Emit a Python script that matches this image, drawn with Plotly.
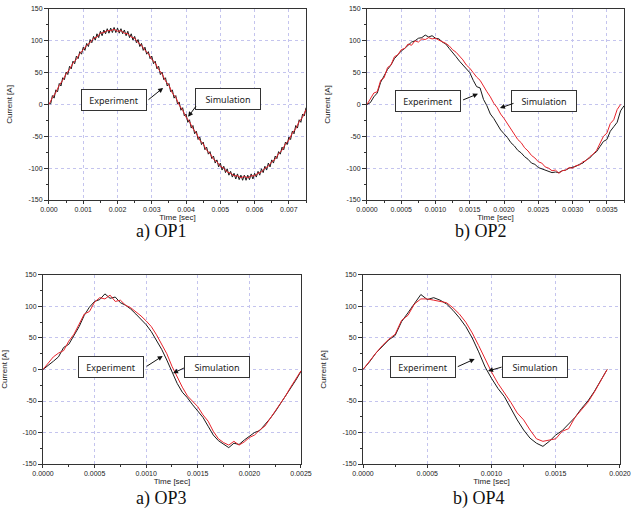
import plotly.graph_objects as go

# ---- data (current in A) ----
# OP1 experiment: 0 .. 0.0075 s, every 0.05 ms (PWM ripple visible)
op1_exp_step = 0.00005
op1_exp = [2, 1, 14, 10, 23, 20, 33, 29, 42, 39,
           51, 47, 60, 56, 68, 64, 76, 72, 83, 79,
           90, 85, 96, 91, 102, 97, 107, 101, 111, 105,
           115, 108, 117, 111, 119, 112, 120, 113, 121, 113,
           120, 112, 119, 111, 117, 108, 115, 105, 111, 101,
           107, 97, 102, 91, 96, 85, 90, 79, 83, 72,
           76, 64, 68, 56, 60, 47, 51, 39, 42, 29,
           33, 20, 23, 10, 14, 1, 4, -9, -5, -18,
           -15, -28, -24, -37, -33, -46, -42, -55, -51, -63,
           -59, -71, -67, -78, -74, -85, -81, -92, -87, -98,
           -92, -103, -97, -107, -101, -111, -105, -114, -108, -117,
           -109, -118, -111, -119, -111, -119, -111, -118, -109, -117,
           -108, -114, -105, -111, -101, -107, -97, -103, -92, -98,
           -87, -92, -81, -85, -74, -78, -67, -71, -59, -63,
           -51, -55, -42, -46, -33, -37, -24, -28, -15, -18,
           -5]
# OP1 simulation: every 0.1 ms
op1_sim_step = 0.0001
op1_sim = [0, 11, 19, 30, 38, 48, 55, 65, 71, 80,
           86, 93, 97, 104, 106, 112, 113, 116, 116, 118,
           115, 116, 112, 111, 106, 104, 97, 93, 85, 80,
           71, 65, 55, 48, 37, 30, 18, 11, -1, -9,
           -20, -27, -38, -45, -56, -62, -72, -77, -86, -90,
           -97, -100, -106, -108, -112, -112, -115, -113, -115, -112,
           -112, -108, -106, -100, -97, -90, -86, -77, -72, -62,
           -56, -45, -38, -27, -20, -8]

# OP2: every 0.05 ms
op2_step = 0.00005
op2_exp = [0, 3, 12, 18, 35, 45, 55, 62, 72, 78,
           84, 88, 93, 98, 100, 104, 105, 109, 106, 108,
           104, 103, 98, 95, 88, 82, 75, 68, 62, 55,
           50, 38, 28, 26, 8, -2, -15, -22, -32, -40,
           -46, -52, -60, -65, -72, -76, -82, -86, -92, -94,
           -99, -101, -104, -105, -107, -106, -107, -104, -103, -100,
           -99, -97, -94, -92, -87, -84, -78, -74, -66, -58,
           -55, -42, -35, -28, -10, -2]
op2_sim = [0, 8, 18, 20, 38, 42, 58, 62, 75, 78,
           86, 88, 95, 93, 100, 98, 103, 102, 105, 103,
           104, 101, 99, 96, 92, 86, 82, 76, 70, 62,
           57, 50, 43, 38, 28, 20, 12, 2, -5, -15,
           -22, -30, -38, -45, -55, -60, -68, -73, -80, -84,
           -90, -92, -98, -100, -104, -103, -108, -104, -103, -99,
           -100, -96, -95, -90, -88, -82, -78, -72, -62, -50,
           -45, -30, -24, -8, 0]

# OP3: every 0.05 ms
op3_step = 0.00005
op3_exp = [0, 6, 13, 20, 35, 40, 55, 68, 86, 99,
           108, 111, 120, 113, 115, 106, 102, 96, 88, 80,
           71, 60, 46, 32, 15, -4, -22, -36, -45, -56,
           -66, -76, -90, -104, -113, -118, -124, -117, -119, -112,
           -106, -100, -97, -88, -78, -67, -55, -42, -30, -17,
           -3]
op3_sim = [0, 10, 20, 26, 30, 45, 56, 72, 88, 92,
           107, 114, 112, 118, 108, 110, 102, 98, 92, 85,
           77, 68, 55, 40, 25, 5, -12, -28, -42, -50,
           -59, -72, -82, -98, -110, -116, -120, -114, -120, -115,
           -108, -104, -96, -90, -78, -68, -55, -42, -28, -16,
           -2]

# OP4: every 0.05 ms
op4_step = 0.00005
op4_exp = [0, 12, 26, 36, 47, 54, 76, 90, 105, 119,
           111, 114, 110, 104, 94, 82, 68, 50, 28, 4,
           -14, -30, -43, -62, -80, -96, -109, -117, -122, -114,
           -104, -97, -86, -76, -62, -50, -35, -18, 0]
op4_sim = [0, 14, 26, 38, 48, 56, 78, 86, 104, 112,
           112, 110, 108, 106, 98, 88, 75, 58, 38, 16,
           -4, -22, -36, -52, -69, -80, -96, -110, -114, -112,
           -110, -98, -94, -76, -64, -52, -36, -18, 0]

y_ticks = [-150, -100, -50, 0, 50, 100, 150]
y_labels = [str(v) for v in y_ticks]

captions = ["a) OP1", "b) OP2", "a) OP3", "b) OP4"]


def times(vals, step):
    return [i * step for i in range(len(vals))]


panels = [
    # exp, exp step, sim, sim step, x max, major dtick, tick format, x domain, y domain
    (op1_exp, op1_exp_step, op1_sim, op1_sim_step, 0.0075, 0.001, ".3f", [0.0769, 0.4804], [0.6212, 0.983]),
    (op2_exp, op2_step, op2_sim, op2_step, 0.00375, 0.0005, ".4f", [0.5761, 0.9796], [0.6212, 0.983]),
    (op3_exp, op3_step, op3_sim, op3_step, 0.0025, 0.0005, ".4f", [0.0675, 0.4725], [0.1212, 0.4792]),
    (op4_exp, op4_step, op4_sim, op4_step, 0.0020, 0.0005, ".4f", [0.5699, 0.9733], [0.1212, 0.4792]),
]

# annotation boxes / arrows in data coords: (text, box x, box y, tail x, tail y, tip x, tip y)
labels = [
    [("Experiment", 0.0019, 6.5, 0.00286, 5.7, 0.00333, 26),
     ("Simulation", 0.00521, 8.9, 0.00432, -0.5, 0.00406, -19.4)],
    [("Experiment", 0.00089, 5, 0.00138, 6.2, 0.00162, 16.8),
     ("Simulation", 0.00259, 6, 0.00216, 2.6, 0.00194, -5.7)],
    [("Experiment", 0.00066, 3.2, 0.00099, 3.5, 0.00116, 21.4),
     ("Simulation", 0.00169, 4.4, 0.00138, 3.5, 0.00126, -6)],
    [("Experiment", 0.000468, 3.5, 0.000726, 3.5, 0.000869, 16.7),
     ("Simulation", 0.00134, 4.4, 0.00109, 4.4, 0.000973, -2.4)],
]

caption_pos = [(0.253, 0.562), (0.755, 0.562), (0.253, 0.056), (0.752, 0.056)]

fig = go.Figure()
layout = dict(
    width=637, height=528,
    margin=dict(l=0, r=0, t=0, b=0),
    paper_bgcolor="white", plot_bgcolor="white",
    showlegend=False,
    font=dict(family="Liberation Sans, Arial", color="#222"),
)
annotations = []

for i, (exp, exp_step, sim, sim_step, xmax, dtick, fmt, xdom, ydom) in enumerate(panels):
    n = "" if i == 0 else str(i + 1)
    xref, yref = "x" + n, "y" + n
    fig.add_trace(go.Scatter(x=times(exp, exp_step), y=exp, mode="lines", name="Experiment",
                             line=dict(color="#1a1a1a", width=1), xaxis=xref, yaxis=yref))
    fig.add_trace(go.Scatter(x=times(sim, sim_step), y=sim, mode="lines", name="Simulation",
                             line=dict(color="#e8242c", width=1), xaxis=xref, yaxis=yref))

    layout["xaxis" + n] = dict(
        domain=xdom, anchor=yref, range=[0, xmax], tick0=0, dtick=dtick, tickformat=fmt,
        showline=True, mirror=True, linecolor="#333", linewidth=1,
        ticks="outside", ticklen=3, tickcolor="#333", tickfont=dict(size=7),
        minor=dict(ticks="outside", ticklen=2, tickcolor="#333", dtick=dtick / 2, showgrid=False),
        showgrid=True, gridcolor="#c4c4ee", griddash="dot", gridwidth=1,
        zeroline=False, automargin=False,
        title=dict(text="Time [sec]", font=dict(size=8), standoff=0),
    )
    layout["yaxis" + n] = dict(
        domain=ydom, anchor=xref, range=[-150, 150], tickvals=y_ticks, ticktext=y_labels,
        showline=True, mirror=True, linecolor="#333", linewidth=1,
        ticks="outside", ticklen=4, tickcolor="#333", tickfont=dict(size=7),
        minor=dict(ticks="outside", ticklen=2, tickcolor="#333", dtick=25, showgrid=False),
        showgrid=True, gridcolor="#c4c4ee", griddash="dot", gridwidth=1,
        zeroline=False, automargin=False,
        title=dict(text="Current [A]", font=dict(size=8), standoff=14),
    )

    for text, bx, by, tx, ty, px, py in labels[i]:
        annotations.append(dict(
            x=bx, y=by, xref=xref, yref=yref, text=text, showarrow=False,
            font=dict(family="Noto Sans", size=9, color="#222"),
            bgcolor="white", bordercolor="#333", borderwidth=1, borderpad=3,
            width=58, height=14,
        ))
        annotations.append(dict(
            x=px, y=py, xref=xref, yref=yref, ax=tx, ay=ty, axref=xref, ayref=yref,
            text="", showarrow=True, arrowhead=2, arrowsize=1, arrowwidth=1, arrowcolor="#111",
        ))

    cx, cy = caption_pos[i]
    annotations.append(dict(
        x=cx, y=cy, xref="paper", yref="paper", xanchor="center", yanchor="middle",
        text=captions[i], showarrow=False,
        font=dict(family="Liberation Serif, DejaVu Serif", size=18, color="#111"),
    ))

layout["annotations"] = annotations
fig.update_layout(**layout)

# page body has a default 8px margin; drop it so the figure fills the window
fig.write_html("out.html", config={"displayModeBar": False},
               post_script="document.body.style.margin='0px';")
